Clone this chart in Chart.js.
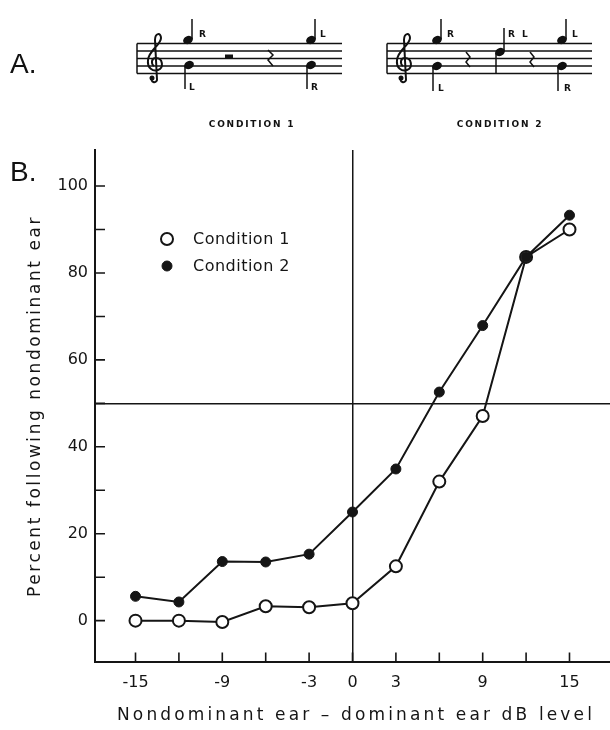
<!DOCTYPE html>
<html>
<head>
<meta charset="utf-8">
<script src="https://cdn.jsdelivr.net/npm/chart.js@4.4.1/dist/chart.umd.min.js"></script>
<style>
  html, body { margin: 0; padding: 0; background: #fff; overflow: hidden; }
  #wrap { position: relative; width: 610px; height: 730px; }
  #wrap canvas { position: absolute; left: 0; top: 0; }
  #panelA { position: absolute; left: 0; top: 0; pointer-events: none; }
  .lbl { font-family: "DejaVu Sans", sans-serif; font-weight: bold; font-size: 9px; fill: #111; }
  .cond { font-family: "DejaVu Sans", sans-serif; font-weight: bold; font-size: 9px; letter-spacing: 1.8px; fill: #111; }
  .panel { font-family: "Liberation Sans", sans-serif; font-size: 28px; fill: #111; }
</style>
</head>
<body>
<div id="wrap">
  <canvas id="fig"></canvas>
  <svg id="panelA" width="610" height="200" viewBox="0 0 610 200">
    <defs>
      <path id="clef" d="M152 78 C150 82 156 84 157 80 L155 40 C155 33 161 32 161 38 C161 45 149 50 148 60 C147 68 153 72 158 70 C164 68 163 58 156 58 C151 58 151 64 154 66" fill="none" stroke="#111" stroke-width="2"/>
    </defs>
    <text class="panel" x="10" y="73">A.</text>
    <text class="panel" x="10" y="181">B.</text>

    <!-- staff 1 -->
    <g stroke="#111" stroke-width="1.5">
      <line x1="137" y1="43.5" x2="342" y2="43.5"/>
      <line x1="137" y1="51" x2="342" y2="51"/>
      <line x1="137" y1="58.5" x2="342" y2="58.5"/>
      <line x1="137" y1="66" x2="342" y2="66"/>
      <line x1="137" y1="73.5" x2="342" y2="73.5"/>
      <line x1="137" y1="43.5" x2="137" y2="73.5"/>
    </g>
    <use href="#clef"/>
    <circle cx="152" cy="78" r="2.5" fill="#111"/>
    <g fill="#111" stroke="#111" stroke-width="1.5">
      <ellipse cx="188" cy="40" rx="4.3" ry="3.2" transform="rotate(-25 188 40)"/>
      <line x1="192" y1="39" x2="192" y2="19"/>
      <ellipse cx="189" cy="65" rx="4.3" ry="3.2" transform="rotate(-25 189 65)"/>
      <line x1="185" y1="66" x2="185" y2="89"/>
      <rect x="225" y="54.5" width="8" height="4" stroke="none"/>
      <path d="M268 50 L273 55 L268 60 L273 66" fill="none"/>
      <ellipse cx="311" cy="40" rx="4.3" ry="3.2" transform="rotate(-25 311 40)"/>
      <line x1="315" y1="39" x2="315" y2="19"/>
      <ellipse cx="311" cy="65" rx="4.3" ry="3.2" transform="rotate(-25 311 65)"/>
      <line x1="307" y1="66" x2="307" y2="89"/>
    </g>
    <text class="lbl" x="199" y="37">R</text>
    <text class="lbl" x="189" y="90">L</text>
    <text class="lbl" x="320" y="37">L</text>
    <text class="lbl" x="311" y="90">R</text>
    <text class="cond" x="252" y="127" text-anchor="middle">CONDITION 1</text>

    <!-- staff 2 -->
    <g stroke="#111" stroke-width="1.5">
      <line x1="387" y1="43.5" x2="592" y2="43.5"/>
      <line x1="387" y1="51" x2="592" y2="51"/>
      <line x1="387" y1="58.5" x2="592" y2="58.5"/>
      <line x1="387" y1="66" x2="592" y2="66"/>
      <line x1="387" y1="73.5" x2="592" y2="73.5"/>
      <line x1="387" y1="43.5" x2="387" y2="73.5"/>
    </g>
    <use href="#clef" transform="translate(249 0)"/>
    <circle cx="401" cy="78" r="2.5" fill="#111"/>
    <g fill="#111" stroke="#111" stroke-width="1.5">
      <ellipse cx="437" cy="40" rx="4.3" ry="3.2" transform="rotate(-25 437 40)"/>
      <line x1="441" y1="39" x2="441" y2="19"/>
      <ellipse cx="437" cy="66" rx="4.3" ry="3.2" transform="rotate(-25 437 66)"/>
      <line x1="433" y1="67" x2="433" y2="91"/>
      <path d="M466 52 L470 57 L466 62 L470 67" fill="none"/>
      <ellipse cx="500" cy="52" rx="4.3" ry="3.2" transform="rotate(-25 500 52)"/>
      <line x1="504" y1="51" x2="504" y2="28"/>
      <line x1="496" y1="53" x2="496" y2="74"/>
      <path d="M530 52 L534 57 L530 62 L534 67" fill="none"/>
      <ellipse cx="562" cy="40" rx="4.3" ry="3.2" transform="rotate(-25 562 40)"/>
      <line x1="566" y1="39" x2="566" y2="19"/>
      <ellipse cx="562" cy="66" rx="4.3" ry="3.2" transform="rotate(-25 562 66)"/>
      <line x1="558" y1="67" x2="558" y2="91"/>
    </g>
    <text class="lbl" x="447" y="37">R</text>
    <text class="lbl" x="438" y="91">L</text>
    <text class="lbl" x="508" y="37">R</text>
    <text class="lbl" x="522" y="37">L</text>
    <text class="lbl" x="572" y="37">L</text>
    <text class="lbl" x="564" y="91">R</text>
    <text class="cond" x="500" y="127" text-anchor="middle">CONDITION 2</text>
  </svg>
</div>
<script>
// values
const dbLevels = [-15, -12, -9, -6, -3, 0, 3, 6, 9, 12, 15];
const condition1 = [0, 0, -0.3, 3.3, 3.1, 4.0, 12.5, 32, 47.1, 83.7, 90.0];
const condition2 = [5.6, 4.3, 13.6, 13.5, 15.3, 25, 34.9, 52.6, 67.9, 83.7, 93.3];

const xTickMarks = [-15, -12, -9, -6, -3, 0, 3, 6, 9, 12, 15];
const xTickLabels = [-15, -9, -3, 0, 3, 9, 15];
const yTickMarks = [0, 10, 20, 30, 40, 50, 60, 70, 80, 90, 100];
const yTickLabels = [0, 20, 40, 60, 80, 100];

const ink = "#151515";
const font = '"DejaVu Sans", sans-serif';

function toPoints(ys) {
    return dbLevels.map((x, i) => ({ x: x, y: ys[i] }));
}

// spread text so it spans a given width
function fitText(ctx, text, width) {
    ctx.letterSpacing = "0px";
    const w = ctx.measureText(text).width;
    ctx.letterSpacing = ((width - w) / text.length) + "px";
}

const decor = {
    id: "decor",
    afterDraw(chart) {
        const ctx = chart.ctx;
        const xs = chart.scales.x, ys = chart.scales.y;
        const area = chart.chartArea;
        ctx.save();
        ctx.strokeStyle = ink;
        ctx.lineWidth = 1.6;
        // inward tick marks
        ctx.beginPath();
        xTickMarks.forEach(v => {
            const px = xs.getPixelForValue(v);
            ctx.moveTo(px, area.bottom);
            ctx.lineTo(px, area.bottom - 9);
        });
        yTickMarks.forEach(v => {
            const py = ys.getPixelForValue(v);
            ctx.moveTo(area.left, py);
            ctx.lineTo(area.left + 10, py);
        });
        ctx.stroke();

        // axis titles
        ctx.fillStyle = ink;
        ctx.font = "17px " + font;
        ctx.textAlign = "center";
        ctx.textBaseline = "alphabetic";
        const xTitle = "Nondominant ear \u2013 dominant ear dB level";
        fitText(ctx, xTitle, 478);
        ctx.fillText(xTitle, 356, 720);

        ctx.save();
        ctx.translate(36, 406);
        ctx.rotate(-Math.PI / 2);
        ctx.textBaseline = "middle";
        const yTitle = "Percent following nondominant ear";
        fitText(ctx, yTitle, 382);
        ctx.fillText(yTitle, 0, 0);
        ctx.restore();

        // legend
        ctx.font = "16px " + font;
        ctx.textAlign = "left";
        ctx.textBaseline = "middle";
        chart.data.datasets.forEach((ds, i) => {
            const cy = 239 + i * 27;
            ctx.beginPath();
            ctx.arc(167, cy, ds.pointRadius, 0, Math.PI * 2);
            ctx.fillStyle = ds.pointBackgroundColor;
            ctx.fill();
            ctx.lineWidth = ds.pointBorderWidth;
            ctx.strokeStyle = ink;
            ctx.stroke();
            ctx.fillStyle = ink;
            fitText(ctx, ds.label, 97);
            ctx.fillText(ds.label, 193, cy + 1);
        });
        ctx.restore();
    }
};

new Chart(document.getElementById("fig"), {
    type: "scatter",
    data: {
        datasets: [
            {
                label: "Condition 1",
                data: toPoints(condition1),
                showLine: true,
                borderColor: ink,
                borderWidth: 2,
                pointRadius: 6,
                pointBorderWidth: 2,
                pointBackgroundColor: "#ffffff",
                pointBorderColor: ink,
                order: 2,
            },
            {
                label: "Condition 2",
                data: toPoints(condition2),
                showLine: true,
                borderColor: ink,
                borderWidth: 2,
                pointRadius: 5,
                pointBorderWidth: 1,
                pointBackgroundColor: ink,
                pointBorderColor: ink,
                order: 1,
            },
        ],
    },
    options: {
        responsive: true,
        maintainAspectRatio: false,
        animation: false,
        layout: {
            autoPadding: false,
            padding: { top: 150, left: 0, right: 0, bottom: 0 },
        },
        scales: {
            x: {
                type: "linear",
                min: -17.8,
                max: 17.8,
                afterBuildTicks: s => { s.ticks = xTickMarks.map(v => ({ value: v })); },
                afterFit: s => {
                    s.height = 68.5;
                    s.paddingLeft = 0;
                    s.paddingRight = 0;
                },
                grid: {
                    drawTicks: false,
                    lineWidth: 1.5,
                    color: c => (c.tick && c.tick.value === 0 ? ink : "rgba(0,0,0,0)"),
                },
                border: { color: ink, width: 2 },
                ticks: {
                    autoSkip: false,
                    maxRotation: 0,
                    padding: 12,
                    color: ink,
                    font: { family: font, size: 16 },
                    callback: v => (xTickLabels.includes(v) ? String(v) : ""),
                },
            },
            y: {
                min: -9.4,
                max: 108.3,
                afterBuildTicks: s => { s.ticks = yTickMarks.map(v => ({ value: v })); },
                afterFit: s => {
                    s.width = 95;
                    s.paddingTop = 0;
                    s.paddingBottom = 0;
                },
                grid: {
                    drawTicks: false,
                    lineWidth: 1.5,
                    color: c => (c.tick && c.tick.value === 50 ? ink : "rgba(0,0,0,0)"),
                },
                border: { color: ink, width: 2 },
                ticks: {
                    autoSkip: false,
                    padding: 7,
                    color: ink,
                    font: { family: font, size: 16 },
                    callback: v => (yTickLabels.includes(v) ? String(v) : ""),
                },
            },
        },
        plugins: {
            legend: { display: false },
            tooltip: { enabled: false },
        },
    },
    plugins: [decor],
});
</script>
</body>
</html>
